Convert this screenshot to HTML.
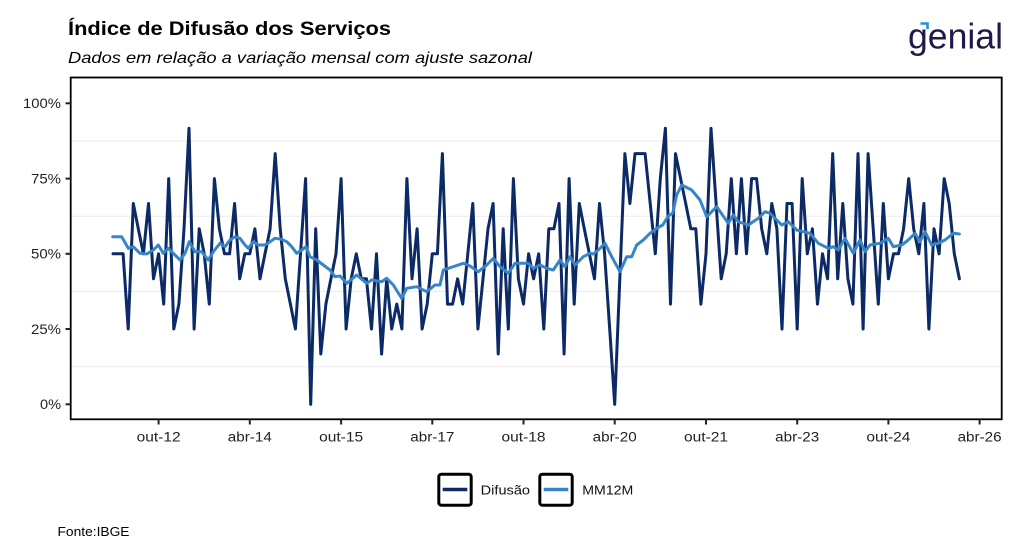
<!DOCTYPE html>
<html>
<head>
<meta charset="utf-8">
<style>
  html,body{margin:0;padding:0;background:#fff;}
  svg{display:block;font-family:"Liberation Sans",Arial,sans-serif;}
</style>
</head>
<body>
<svg width="1024" height="559" viewBox="0 0 1024 559" xmlns="http://www.w3.org/2000/svg">
  <rect x="0" y="0" width="1024" height="559" fill="#ffffff"/>

  <!-- Title / subtitle -->
  <text x="68" y="35" font-size="19" font-weight="bold" fill="#000" textLength="323" lengthAdjust="spacingAndGlyphs">Índice de Difusão dos Serviços</text>
  <text x="68" y="63" font-size="16" font-style="italic" fill="#000" textLength="464" lengthAdjust="spacingAndGlyphs">Dados em relação a variação mensal com ajuste sazonal</text>

  <!-- Logo -->
  <text x="908" y="48.5" font-size="36" fill="#1e1b4b" textLength="95" lengthAdjust="spacingAndGlyphs">genial</text>
  <path d="M920.5 23.5 L927.5 23.5 L927.5 29" fill="none" stroke="#2b8ddb" stroke-width="2.6"/>

  <!-- Minor gridlines -->
  <g stroke="#ebebeb" stroke-width="1">
    <line x1="71.7" y1="141" x2="1000.7" y2="141"/>
    <line x1="71.7" y1="216.2" x2="1000.7" y2="216.2"/>
    <line x1="71.7" y1="291.4" x2="1000.7" y2="291.4"/>
    <line x1="71.7" y1="366.7" x2="1000.7" y2="366.7"/>
  </g>

  <!-- Difusão series -->
  <polyline fill="none" stroke="#0b2a66" stroke-width="3" stroke-linejoin="round" stroke-linecap="round" points="113,253.8 118.1,253.8 123.1,253.8 128.2,329 133.3,203.5 138.3,228.8 143.4,253.8 148.5,203.5 153.5,278.8 158.6,253.8 163.7,304.1 168.7,178.6 173.8,329 178.9,304.1 184,228.8 189,128.3 194.1,329 199.2,228.8 204.2,253.8 209.3,304.1 214.4,178.6 219.4,228.8 224.5,253.8 229.6,253.8 234.6,203.5 239.7,278.8 244.8,253.8 249.8,253.8 254.9,228.8 260,278.8 265,253.8 270.1,228.8 275.2,153.6 280.2,228.8 285.3,278.8 290.4,304.1 295.4,329 300.5,253.8 305.6,178.6 310.7,404.3 315.7,228.8 320.8,354 325.9,304.1 330.9,278.8 336,253.8 341.1,178.6 346.1,329 351.2,278.8 356.3,253.8 361.3,278.8 366.4,278.8 371.5,329 376.5,253.8 381.6,354 386.7,278.8 391.7,329 396.8,304.1 401.9,329 406.9,178.6 412,278.8 417.1,228.8 422.1,329 427.2,304.1 432.3,253.8 437.4,253.8 442.4,153.6 447.5,304.1 452.6,304.1 457.6,278.8 462.7,304.1 467.8,253.8 472.8,203.5 477.9,329 483,278.8 488,228.8 493.1,203.5 498.2,354 503.2,228.8 508.3,329 513.4,178.6 518.4,278.8 523.5,304.1 528.6,253.8 533.6,278.8 538.7,253.8 543.8,329 548.8,228.8 553.9,228.8 559,203.5 564.1,354 569.1,178.6 574.2,304.1 579.3,203.5 584.3,228.8 589.4,253.8 594.5,278.8 599.5,203.5 604.6,253.8 609.7,329 614.7,404.3 619.8,278.8 624.9,153.6 629.9,203.5 635,153.6 640.1,153.6 645.1,153.6 650.2,203.5 655.3,253.8 660.3,178.6 665.4,128.3 670.5,304.1 675.5,153.6 680.6,178.6 685.7,203.5 690.8,228.8 695.8,228.8 700.9,304.1 706,253.8 711,128.3 716.1,203.5 721.2,278.8 726.2,253.8 731.3,178.6 736.4,253.8 741.4,178.6 746.5,253.8 751.6,178.6 756.6,178.6 761.7,228.8 766.8,253.8 771.8,203.5 776.9,228.8 782,329 787,203.5 792.1,203.5 797.2,329 802.2,178.6 807.3,253.8 812.4,228.8 817.5,304.1 822.5,253.8 827.6,278.8 832.7,153.6 837.7,278.8 842.8,203.5 847.9,278.8 852.9,304.1 858,153.6 863.1,329 868.1,153.6 873.2,228.8 878.3,304.1 883.3,203.5 888.4,278.8 893.5,253.8 898.5,253.8 903.6,228.8 908.7,178.6 913.7,228.8 918.8,253.8 923.9,203.5 928.9,329 934,228.8 939.1,253.8 944.2,178.6 949.2,203.5 954.3,253.8 959.4,278.8"/>

  <!-- MM12M series -->
  <polyline fill="none" stroke="#3784c6" stroke-width="3" stroke-linejoin="round" stroke-linecap="round" points="112.7,236.7 121.7,236.7 128.3,248.3 133.3,246.7 140,253.3 146.7,254 153.3,250 158.3,245 163.3,253.3 168.3,248.3 173.3,253.3 180,260 185,253.3 189.3,241.7 195,251.7 201.7,251.7 208.3,260 213.3,251.7 220,243.3 225,246.7 230,240 235,236.7 240,238.3 245,245 248.3,248.3 253.3,241.7 258.3,245 265,245 270,241.7 275,238.3 281.7,239.3 286.7,241.7 291.7,246.7 296.7,253.3 301.7,250 306,246.7 310,256.7 316.7,260 323.3,265 330,270 335,276.7 340,276 346.7,283.3 356.7,275 366.7,283.3 371.7,280 381.7,281.7 386.7,278.3 393.3,285 401.7,298.3 406.7,288.3 416.7,286.7 426.7,291.7 435,285 440,285 443.3,270 453.3,266.7 463.3,263.3 470,266 478.3,271.7 486.7,265 493.3,258.3 500,266.7 508.3,273.3 515,263.3 528.3,263.3 533.3,268.3 540,265 546.7,268.3 553.3,270 560,260 565,266.7 570,256.7 575,265 583.3,256.7 590,253.3 593.3,254 598.3,250 605,243.3 611.7,256.7 620,271.7 626.7,256.7 631.7,256.7 636.7,245 643.3,240 650,233.3 656.7,228.3 662.7,225 668.3,216 672.7,213.3 676.7,195 681.7,185 691.7,190 700,200 706.7,216.7 716.7,206.7 728.3,223.3 733.3,215 738.3,221.7 748.3,225 758.3,218.3 765,211.7 770,213.3 781.7,225 788.3,221.7 796.7,230 803.3,231.7 810,233.3 818.3,243.3 828.3,248.3 833.3,246.7 838.3,250 845,238.3 853.3,253.3 860,240 865,251.7 870,245 880,243.3 888.3,238.3 893.3,246.7 901.7,245 908.3,240 915,233.3 920,241.7 925,231.7 931.7,245 938.3,243.3 945,240 953.3,233.3 959.4,234"/>

  <!-- Panel border -->
  <rect x="70.7" y="77.5" width="931" height="341.8" fill="none" stroke="#000" stroke-width="1.8"/>

  <!-- Y axis ticks & labels -->
  <g stroke="#222" stroke-width="2">
    <line x1="65.5" y1="103.3" x2="70.7" y2="103.3"/>
    <line x1="65.5" y1="178.6" x2="70.7" y2="178.6"/>
    <line x1="65.5" y1="253.8" x2="70.7" y2="253.8"/>
    <line x1="65.5" y1="329" x2="70.7" y2="329"/>
    <line x1="65.5" y1="404.3" x2="70.7" y2="404.3"/>
  </g>
  <g font-size="13.5" fill="#222" text-anchor="end">
    <text x="61" y="108.2" textLength="38" lengthAdjust="spacingAndGlyphs">100%</text>
    <text x="61" y="183.5" textLength="30" lengthAdjust="spacingAndGlyphs">75%</text>
    <text x="61" y="258.7" textLength="30" lengthAdjust="spacingAndGlyphs">50%</text>
    <text x="61" y="333.9" textLength="30" lengthAdjust="spacingAndGlyphs">25%</text>
    <text x="61" y="409.2" textLength="21" lengthAdjust="spacingAndGlyphs">0%</text>
  </g>

  <!-- X axis ticks & labels -->
  <g stroke="#222" stroke-width="2">
    <line x1="158.6" y1="419.3" x2="158.6" y2="424.5"/>
    <line x1="249.8" y1="419.3" x2="249.8" y2="424.5"/>
    <line x1="341.1" y1="419.3" x2="341.1" y2="424.5"/>
    <line x1="432.3" y1="419.3" x2="432.3" y2="424.5"/>
    <line x1="523.5" y1="419.3" x2="523.5" y2="424.5"/>
    <line x1="614.7" y1="419.3" x2="614.7" y2="424.5"/>
    <line x1="706" y1="419.3" x2="706" y2="424.5"/>
    <line x1="797.2" y1="419.3" x2="797.2" y2="424.5"/>
    <line x1="888.4" y1="419.3" x2="888.4" y2="424.5"/>
    <line x1="979.6" y1="419.3" x2="979.6" y2="424.5"/>
  </g>
  <g font-size="13.5" fill="#222" text-anchor="middle">
    <text x="158.6" y="441.5" textLength="44" lengthAdjust="spacingAndGlyphs">out-12</text>
    <text x="249.8" y="441.5" textLength="44" lengthAdjust="spacingAndGlyphs">abr-14</text>
    <text x="341.1" y="441.5" textLength="44" lengthAdjust="spacingAndGlyphs">out-15</text>
    <text x="432.3" y="441.5" textLength="44" lengthAdjust="spacingAndGlyphs">abr-17</text>
    <text x="523.5" y="441.5" textLength="44" lengthAdjust="spacingAndGlyphs">out-18</text>
    <text x="614.7" y="441.5" textLength="44" lengthAdjust="spacingAndGlyphs">abr-20</text>
    <text x="706" y="441.5" textLength="44" lengthAdjust="spacingAndGlyphs">out-21</text>
    <text x="797.2" y="441.5" textLength="44" lengthAdjust="spacingAndGlyphs">abr-23</text>
    <text x="888.4" y="441.5" textLength="44" lengthAdjust="spacingAndGlyphs">out-24</text>
    <text x="979.6" y="441.5" textLength="44" lengthAdjust="spacingAndGlyphs">abr-26</text>
  </g>

  <!-- Legend -->
  <rect x="438.8" y="474.2" width="32.4" height="31" rx="2.5" fill="#fff" stroke="#000" stroke-width="3"/>
  <line x1="442.7" y1="489.5" x2="467.3" y2="489.5" stroke="#0b2a66" stroke-width="3.5"/>
  <text x="480.7" y="494.3" font-size="13" fill="#111" textLength="49.3" lengthAdjust="spacingAndGlyphs">Difusão</text>
  <rect x="539.8" y="474.2" width="32.4" height="31" rx="2.5" fill="#fff" stroke="#000" stroke-width="3"/>
  <line x1="543.7" y1="489.5" x2="568.3" y2="489.5" stroke="#3784c6" stroke-width="3.5"/>
  <text x="582.3" y="494.3" font-size="13" fill="#111" textLength="51" lengthAdjust="spacingAndGlyphs">MM12M</text>

  <!-- Source -->
  <text x="57.5" y="536" font-size="12.5" fill="#000" textLength="72" lengthAdjust="spacingAndGlyphs">Fonte:IBGE</text>
</svg>
</body>
</html>
